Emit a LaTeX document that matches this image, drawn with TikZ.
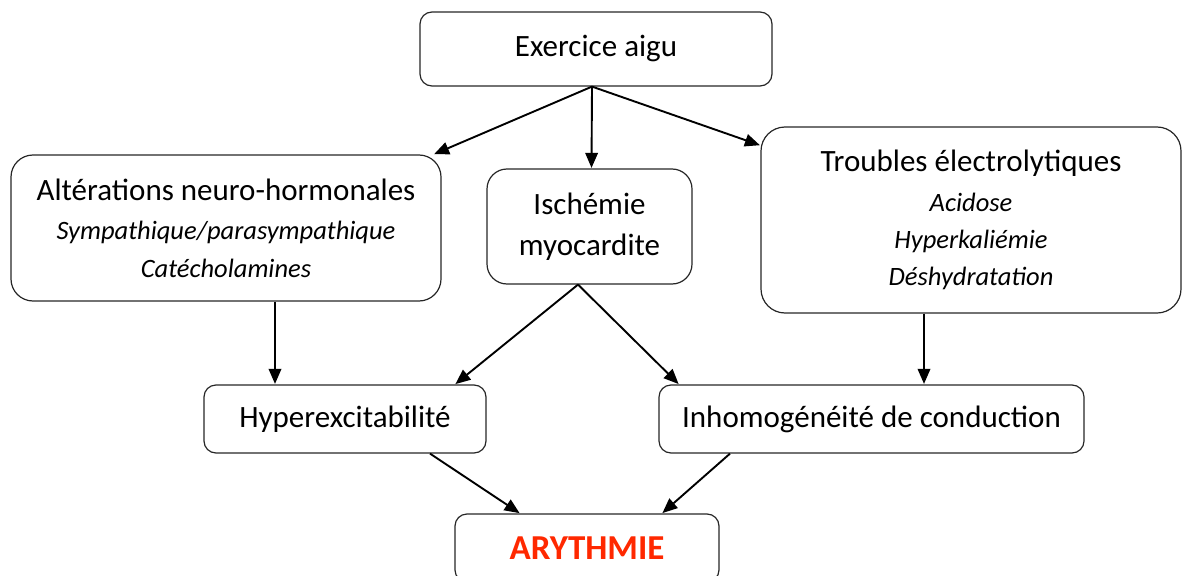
\documentclass[tikz,border=0pt]{standalone}
\usepackage{fontspec}
\setmainfont{Carlito}
\usetikzlibrary{arrows.meta}
\definecolor{arred}{RGB}{255,40,0}
\newcommand{\sub}[1]{{\fontsize{26.5}{38}\selectfont\itshape #1}}
\tikzset{
  box/.style={draw=black!85, line width=1.2pt, rounded corners=#1, align=center, inner sep=0pt, font=\fontsize{31}{38}\selectfont},
  box/.default=12pt,
  arr/.style={line width=1.9pt, -{Triangle[length=15pt,width=12.5pt]}, shorten >=0.5pt},
}
\begin{document}
\begin{tikzpicture}[x=1pt,y=-1pt]
\useasboundingbox (0,0) rectangle (1182,575);
\node[box, minimum width=352pt, minimum height=74pt] (ex) at (596,49) {Exercice aigu};
\node[box=22pt, minimum width=430pt, minimum height=146pt] (alt) at (226,228)
  {Altérations neuro-hormonales\\[1pt]\sub{Sympathique/parasympathique}\\\sub{Catécholamines}};
\node[box=20pt, minimum width=205pt, minimum height=115pt, font=\fontsize{31}{41}\selectfont] (isc) at (589.5,226.5)
  {Ischémie\\myocardite};
\node[box=24pt, minimum width=420pt, minimum height=186pt] (tro) at (971,220)
  {Troubles électrolytiques\\[2pt]\sub{Acidose}\\[-1pt]\sub{Hyperkaliémie}\\[-1pt]\sub{Déshydratation}};
\node[box, minimum width=282pt, minimum height=68pt] (hyp) at (345,419) {Hyperexcitabilité};
\node[box, minimum width=425pt, minimum height=68pt] (inh) at (871.5,419) {Inhomogénéité de conduction};
\node[box, minimum width=264pt, minimum height=68pt, text=arred, font=\fontsize{35}{38}\selectfont\bfseries] (ary) at (587,548) {ARYTHMIE};

\draw[arr] ([xshift=-4pt]ex.south) -- ([xshift=-8pt]alt.north east);
\draw[arr] ([xshift=-4pt]ex.south) -- ([xshift=2pt]isc.north);
\draw[arr] ([xshift=-4pt]ex.south) -- ([yshift=-19pt]tro.north west);
\draw[arr] ([xshift=49pt]alt.south) -- ([xshift=-70pt]hyp.north);
\draw[arr] ([xshift=-11.5pt]isc.south) -- ([xshift=110pt]hyp.north);
\draw[arr] ([xshift=-11.5pt]isc.south) -- ([xshift=-192.5pt]inh.north);
\draw[arr] ([xshift=-47pt]tro.south) -- ([xshift=52.5pt]inh.north);
\draw[arr] ([xshift=85pt]hyp.south) -- ([xshift=-67pt]ary.north);
\draw[arr] ([xshift=-141.5pt]inh.south) -- ([xshift=75pt]ary.north);
\end{tikzpicture}
\end{document}
